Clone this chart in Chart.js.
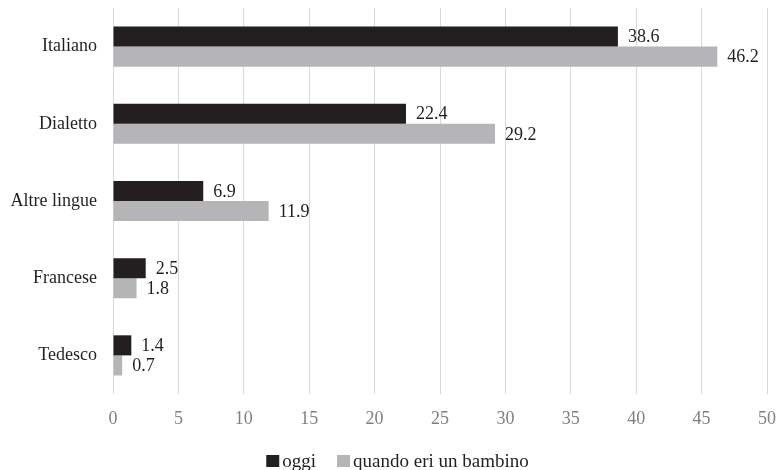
<!DOCTYPE html>
<html>
<head>
<meta charset="utf-8">
<script src="https://cdn.jsdelivr.net/npm/chart.js@4"></script>
<style>
html,body{margin:0;padding:0;background:#fff;}
#wrap{width:776px;height:470px;position:relative;}
</style>
</head>
<body>
<div id="wrap"><canvas id="c" width="776" height="470"></canvas></div>
<script>
const categories = ["Italiano", "Dialetto", "Altre lingue", "Francese", "Tedesco"];
const oggi = [38.6, 22.4, 6.9, 2.5, 1.4];
const bambino = [46.2, 29.2, 11.9, 1.8, 0.7];
const seriesNames = ["oggi", "quando eri un bambino"];
const seriesColors = ['#231f20', '#b5b5b7'];
const xTicks = [0, 5, 10, 15, 20, 25, 30, 35, 40, 45, 50];

const FONT = "'Liberation Serif', 'Times New Roman', serif";

const valueLabels = {
  id: 'valueLabels',
  afterDatasetsDraw(chart) {
    const ctx = chart.ctx;
    ctx.save();
    ctx.font = "18px " + FONT;
    ctx.fillStyle = "#231f20";
    ctx.textAlign = "left";
    ctx.textBaseline = "middle";
    chart.data.datasets.forEach((ds, i) => {
      const meta = chart.getDatasetMeta(i);
      meta.data.forEach((bar, j) => {
        ctx.fillText(ds.data[j].toFixed(1), bar.x + 10, bar.y + 1);
      });
    });
    ctx.restore();
  }
};

const bottomLegend = {
  id: 'bottomLegend',
  afterDraw(chart) {
    const ctx = chart.ctx;
    ctx.save();
    ctx.font = "19px " + FONT;
    ctx.textBaseline = "alphabetic";
    ctx.textAlign = "left";
    const box = 13, gapText = 3, gapItem = 21;
    const widths = chart.data.datasets.map(ds => box + gapText + ctx.measureText(ds.label).width);
    const total = widths.reduce((a, b) => a + b, 0) + gapItem * (widths.length - 1);
    let x = 397.5 - total / 2;
    const cy = 461;
    chart.data.datasets.forEach((ds, i) => {
      ctx.fillStyle = ds.backgroundColor;
      ctx.fillRect(x, cy - 6, box, 12);
      ctx.fillStyle = '#231f20';
      ctx.fillText(ds.label, x + box + gapText, cy + 6);
      x += widths[i] + gapItem;
    });
    ctx.restore();
  }
};

new Chart(document.getElementById('c'), {
  type: 'bar',
  data: {
    labels: categories,
    datasets: [
      { label: seriesNames[0], data: oggi, backgroundColor: seriesColors[0], categoryPercentage: 0.52, barPercentage: 1.0 },
      { label: seriesNames[1], data: bambino, backgroundColor: seriesColors[1], categoryPercentage: 0.52, barPercentage: 1.0 }
    ]
  },
  options: {
    indexAxis: 'y',
    responsive: false,
    animation: false,
    layout: { padding: { left: 0, right: 9, top: 8, bottom: 36 } },
    plugins: {
      tooltip: { enabled: false },
      legend: { display: false }
    },
    scales: {
      x: {
        min: 0, max: 50,
        afterBuildTicks(scale) { scale.ticks = xTicks.map(v => ({ value: v })); },
        grid: { color: '#d9d9d9', lineWidth: 1, drawTicks: false },
        border: { display: false },
        ticks: { color: '#7f7f7f', padding: 14, font: { family: FONT, size: 18 } },
        afterFit(scale) { scale.height = 40; scale.paddingLeft = 0; scale.paddingRight = 0; }
      },
      y: {
        grid: { display: false, drawTicks: false },
        border: { display: false },
        ticks: { color: '#231f20', padding: 16, font: { family: FONT, size: 18 } },
        afterFit(scale) { scale.width = 113; scale.paddingTop = 0; scale.paddingBottom = 0; }
      }
    }
  },
  plugins: [valueLabels, bottomLegend]
});
</script>
</body>
</html>
